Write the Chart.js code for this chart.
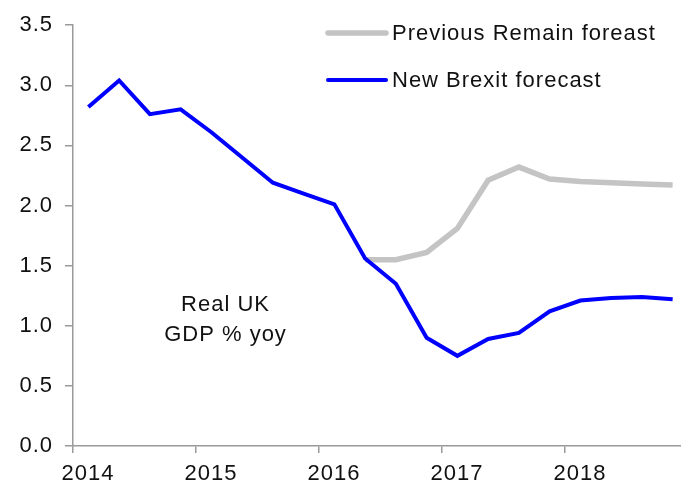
<!DOCTYPE html>
<html>
<head>
<meta charset="utf-8">
<script src="https://cdn.jsdelivr.net/npm/chart.js@4/dist/chart.umd.min.js"></script>
<style>
  html, body { margin: 0; padding: 0; background: #fff; }
  #wrap { width: 681px; height: 493px; position: relative; }
</style>
</head>
<body>
<div id="wrap"><canvas id="c" width="681" height="493"></canvas></div>
<script>
// Quarterly observations, plotted at mid-quarter
const quarters = [
  2014.125, 2014.375, 2014.625, 2014.875,
  2015.125, 2015.375, 2015.625, 2015.875,
  2016.125, 2016.375, 2016.625, 2016.875,
  2017.125, 2017.375, 2017.625, 2017.875,
  2018.125, 2018.375, 2018.625, 2018.875
];
const remainForecast = [
  null, null, null, null,
  null, null, null, null,
  null, 1.55, 1.55, 1.61,
  1.81, 2.21, 2.32, 2.22,
  2.20, 2.19, 2.18, 2.17
];
const brexitForecast = [
  2.82, 3.04, 2.76, 2.80,
  2.61, 2.40, 2.19, 2.10,
  2.01, 1.56, 1.35, 0.90,
  0.75, 0.89, 0.94, 1.12,
  1.21, 1.23, 1.24, 1.22
];
const yearTicks = [2014, 2015, 2016, 2017, 2018];
const seriesNames = ['Previous Remain foreast', 'New Brexit forecast'];
const noteLines = ['Real UK', 'GDP % yoy'];

const FONT = '"Liberation Sans", Arial, Helvetica, sans-serif';
const GREY = '#c4c4c4';
const BLUE = '#0000ff';
const AXIS = '#9a9a9a';

const toPoints = vals => quarters.map((x, i) => ({ x, y: vals[i] }));

// Slightly wider text spacing for every label on the canvas
const spacing = {
  id: 'spacing',
  beforeDraw(chart) { chart.ctx.letterSpacing = '1px'; }
};

// In-plot legend and the series note
const overlay = {
  id: 'overlay',
  afterDraw(chart) {
    const ctx = chart.ctx;
    const xs = chart.scales.x, ys = chart.scales.y;
    ctx.save();
    ctx.letterSpacing = '1px';
    ctx.font = '22px ' + FONT;
    ctx.fillStyle = '#111';
    ctx.textBaseline = 'middle';
    const items = [
      { name: seriesNames[0], color: GREY, w: 5.5, y: 33 },
      { name: seriesNames[1], color: BLUE, w: 4, y: 80 }
    ];
    items.forEach(it => {
      ctx.strokeStyle = it.color;
      ctx.lineWidth = it.w;
      ctx.lineCap = 'round';
      ctx.beginPath();
      ctx.moveTo(328, it.y);
      ctx.lineTo(386, it.y);
      ctx.stroke();
      ctx.textAlign = 'left';
      ctx.fillText(it.name, 392, it.y + 1);
    });
    ctx.textAlign = 'center';
    const cx = xs.getPixelForValue(2015.24);
    ctx.fillText(noteLines[0], cx, ys.getPixelForValue(1.17));
    ctx.fillText(noteLines[1], cx, ys.getPixelForValue(0.92));
    ctx.restore();
  }
};

new Chart(document.getElementById('c'), {
  type: 'line',
  data: {
    datasets: [
      {
        label: seriesNames[1],
        data: toPoints(brexitForecast),
        borderColor: BLUE,
        borderWidth: 4,
        pointRadius: 0,
        tension: 0,
        order: 0
      },
      {
        label: seriesNames[0],
        data: toPoints(remainForecast),
        borderColor: GREY,
        borderWidth: 5.5,
        pointRadius: 0,
        tension: 0,
        spanGaps: false,
        order: 1
      }
    ]
  },
  options: {
    responsive: false,
    animation: false,
    events: [],
    layout: { padding: { top: 23, right: 0, left: 0, bottom: 0 } },
    plugins: { legend: { display: false }, tooltip: { enabled: false } },
    scales: {
      x: {
        type: 'linear',
        min: 2014,
        max: 2018.943,
        afterBuildTicks: s => { s.ticks = yearTicks.map(v => ({ value: v })); },
        afterFit: s => { s.height = 47; },
        grid: { display: true, drawOnChartArea: false, drawTicks: true, tickLength: 7, color: AXIS, lineWidth: 1.5 },
        border: { color: AXIS, width: 1.5 },
        ticks: {
          color: '#111',
          font: { family: FONT, size: 22 },
          padding: 8,
          labelOffset: 15,
          maxRotation: 0,
          callback: v => String(v)
        }
      },
      y: {
        min: 0,
        max: 3.5,
        afterFit: s => { s.width = 73; },
        grid: { display: true, drawOnChartArea: false, drawTicks: true, tickLength: 8, color: AXIS, lineWidth: 1.5 },
        border: { color: AXIS, width: 1.5 },
        ticks: {
          stepSize: 0.5,
          color: '#111',
          font: { family: FONT, size: 22 },
          padding: 12,
          callback: v => v.toFixed(1)
        }
      }
    }
  },
  plugins: [spacing, overlay]
});
</script>
</body>
</html>
